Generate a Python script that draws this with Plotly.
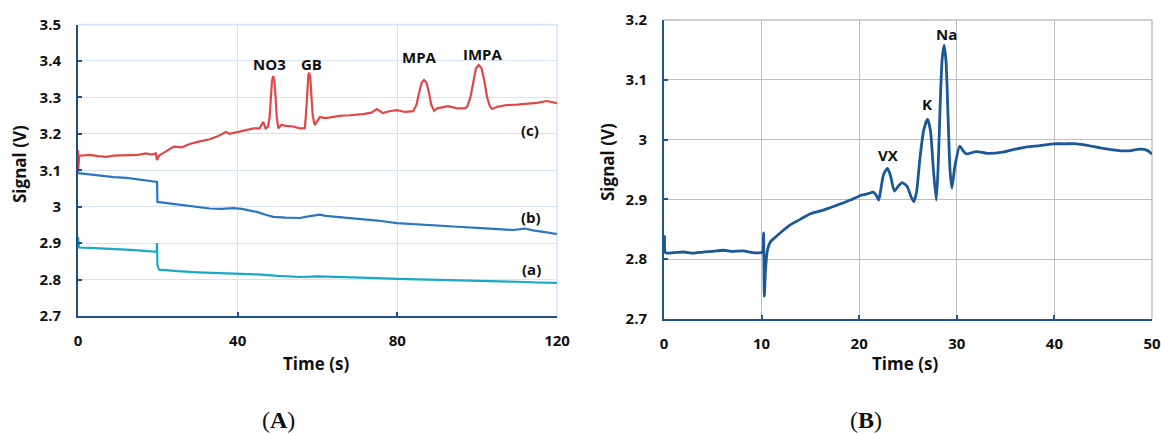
import plotly.graph_objects as go

# ---------------- Panel A data (Time s, Signal V) ----------------
t_c = [0, 0, 0.3, 3, 5, 7, 9, 12, 15, 17, 18.5, 19.5, 19.8, 20.3, 22, 24, 26, 28, 30,
       33, 35, 37, 38, 40, 42, 44, 45.5, 46.4, 47.0, 47.6, 48.0, 48.3, 48.6, 48.9, 49.2,
       49.5, 49.8, 50.2, 51, 52, 53.9, 55.6, 56.8, 57.1, 57.4, 57.7, 57.9, 58.2, 58.5,
       58.8, 59.3, 60.0, 60.6, 62, 63.9, 66, 68, 71.4, 73.5, 74.9, 76.4, 78, 79.9, 82,
       84.0, 84.8, 85.5, 86.1, 86.7, 87.3, 87.9, 88.5, 89.2, 90.0, 92.7, 95, 96.9, 97.5,
       98.3, 99.0, 99.7, 100.4, 101.1, 101.8, 102.5, 103.2, 103.8, 105, 107.4, 110, 113,
       115, 117.4, 119, 120]
v_c = [3.155, 3.092, 3.140, 3.142, 3.139, 3.137, 3.140, 3.140, 3.142, 3.146, 3.143, 3.146,
       3.128, 3.140, 3.152, 3.165, 3.163, 3.172, 3.178, 3.185, 3.193, 3.205, 3.200, 3.205,
       3.212, 3.215, 3.215, 3.233, 3.215, 3.220, 3.245, 3.300, 3.345, 3.359, 3.345, 3.300,
       3.245, 3.215, 3.225, 3.222, 3.220, 3.215, 3.215, 3.250, 3.310, 3.360, 3.368, 3.355,
       3.300, 3.250, 3.224, 3.235, 3.246, 3.243, 3.247, 3.250, 3.251, 3.254, 3.258, 3.268,
       3.257, 3.262, 3.265, 3.260, 3.262, 3.280, 3.315, 3.340, 3.348, 3.340, 3.315, 3.280,
       3.263, 3.270, 3.276, 3.270, 3.270, 3.274, 3.300, 3.345, 3.380, 3.389, 3.380, 3.345,
       3.300, 3.275, 3.268, 3.274, 3.279, 3.280, 3.283, 3.285, 3.290, 3.286, 3.284]

t_b = [0, 3, 6, 9, 12.2, 15, 18, 19.8, 19.9, 22, 25, 27.3, 30, 33, 36, 38.9, 41, 43, 45,
       47, 48.9, 52, 55.6, 57, 59, 60.6, 62, 65, 70, 75, 79.9, 85, 90, 95, 100, 105, 109,
       112, 114, 117, 120]
v_b = [3.092, 3.088, 3.085, 3.081, 3.079, 3.075, 3.071, 3.068, 3.013, 3.010, 3.005, 3.002,
       2.998, 2.995, 2.994, 2.996, 2.994, 2.990, 2.985, 2.978, 2.972, 2.970, 2.969, 2.972,
       2.975, 2.978, 2.975, 2.972, 2.968, 2.962, 2.955, 2.951, 2.948, 2.945, 2.942, 2.939,
       2.936, 2.940, 2.935, 2.930, 2.925]

t_a = [0, 0.3, 3, 6, 9, 12, 15, 18, 19.7, 19.8, 19.9, 20.3, 22, 25, 30, 35, 38.9, 45, 50,
       55.6, 60, 65, 70, 75, 80, 85, 90, 95, 100, 105, 110, 115, 120]
v_a = [2.917, 2.888, 2.887, 2.886, 2.884, 2.882, 2.880, 2.878, 2.876, 2.900, 2.840, 2.827,
       2.825, 2.823, 2.820, 2.818, 2.818, 2.814, 2.810, 2.807, 2.809, 2.808, 2.806, 2.804,
       2.802, 2.801, 2.800, 2.799, 2.798, 2.796, 2.794, 2.792, 2.791]

# ---------------- Panel B data ----------------
t_vx = [0, 0.05, 0.15, 1, 2, 3, 4, 5, 6.1, 7, 8.1, 9.1, 9.9, 10.1, 10.2, 10.28, 10.4, 10.6,
        10.9, 11.5, 12.2, 12.9, 14, 15, 16.3, 17, 18, 19.1, 20.2, 21, 21.4, 21.7, 22.0,
        22.2, 22.5, 22.9, 23.2, 23.6, 24.0, 24.4, 24.9, 25.3, 25.6, 25.9, 26.2, 26.6, 27.0,
        27.3, 27.6, 27.9, 28.1, 28.3, 28.5, 28.7, 28.9, 29.1, 29.3, 29.5, 29.8, 30.3, 30.7,
        31, 32, 33.1, 34.7, 36, 37.2, 38.5, 39.9, 41, 42.3, 43.5, 44.7, 46, 47.4, 48.8,
        49.5, 50]
v_vx = [2.811, 2.838, 2.811, 2.811, 2.812, 2.810, 2.812, 2.813, 2.815, 2.813, 2.814, 2.811,
        2.811, 2.812, 2.844, 2.738, 2.782, 2.815, 2.829, 2.838, 2.848, 2.857, 2.867, 2.876,
        2.882, 2.886, 2.892, 2.899, 2.907, 2.910, 2.912, 2.908, 2.899, 2.915, 2.942, 2.952,
        2.940, 2.914, 2.922, 2.928, 2.922, 2.905, 2.896, 2.915, 2.965, 3.015, 3.034, 3.015,
        2.950, 2.899, 2.960, 3.060, 3.135, 3.158, 3.130, 3.040, 2.950, 2.919, 2.955, 2.989,
        2.980, 2.976, 2.980, 2.977, 2.979, 2.984, 2.988, 2.990, 2.993, 2.993, 2.993, 2.990,
        2.986, 2.983, 2.981, 2.984, 2.982, 2.976]

# peak / curve labels
labA_text = ["NO3", "GB", "MPA", "IMPA", "(c)", "(b)", "(a)"]
labA_x = [48.0, 58.4, 85.5, 101.4, 113.2, 113.5, 113.7]
labA_y = [3.392, 3.392, 3.411, 3.419, 3.210, 2.973, 2.829]
labB_text = ["VX", "K", "Na"]
labB_x = [22.9, 26.9, 28.9]
labB_y = [2.974, 3.059, 3.176]

xA_ticks = [0, 40, 80, 120]
xB_ticks = [0, 10, 20, 30, 40, 50]

W, H = 1161, 435
FONT = "Open Sans"
AX_A = "#1f4e89"
AX_B = "#1f5590"
GRID_A = "#d7e3f3"
GRID_B = "#bfbfbf"

fig = go.Figure()
fig.add_trace(go.Scatter(x=t_c, y=v_c, mode="lines", line=dict(color="#e04848", width=2.2),
                         xaxis="x", yaxis="y", showlegend=False))
fig.add_trace(go.Scatter(x=t_b, y=v_b, mode="lines", line=dict(color="#2a77c0", width=2.2),
                         xaxis="x", yaxis="y", showlegend=False))
fig.add_trace(go.Scatter(x=t_a, y=v_a, mode="lines", line=dict(color="#1aa8c8", width=2.2),
                         xaxis="x", yaxis="y", showlegend=False))
fig.add_trace(go.Scatter(x=t_vx, y=v_vx, mode="lines",
                         line=dict(color="#1b5896", width=2.8, shape="spline", smoothing=0.6),
                         xaxis="x2", yaxis="y2", showlegend=False))

tickfont = dict(family=FONT, size=15, color="#111111", weight="bold")

def xax(domain, rng, ticks, grid, axc, anchor):
    return dict(domain=domain, range=rng, tickvals=ticks, showgrid=True, gridcolor=grid,
                gridwidth=1, zeroline=False, showline=True, linecolor=axc, linewidth=2,
                ticks="inside", ticklen=4, tickwidth=2, tickcolor=axc, tickfont=tickfont,
                ticklabelstandoff=10, anchor=anchor, fixedrange=True, automargin=False)

def yax(domain, rng, grid, axc, anchor):
    return dict(domain=domain, range=rng, dtick=0.1, tick0=2.7, showgrid=True, gridcolor=grid,
                gridwidth=1, zeroline=False, showline=True, linecolor=axc, linewidth=2,
                ticks="inside", ticklen=4, tickwidth=2, tickcolor=axc, tickfont=tickfont,
                ticklabelstandoff=12, anchor=anchor, fixedrange=True, automargin=False)

fig.update_layout(
    width=W, height=H, autosize=False,
    margin=dict(l=0, r=0, t=0, b=0, pad=0, autoexpand=False),
    paper_bgcolor="white", plot_bgcolor="white", showlegend=False,
    xaxis=xax([78 / W, 557 / W], [0, 120], xA_ticks, GRID_A, AX_A, "y"),
    yaxis=yax([1 - 316 / H, 1 - 24.5 / H], [2.7, 3.5], GRID_A, AX_A, "x"),
    xaxis2=xax([664 / W, 1152 / W], [0, 50], xB_ticks, GRID_B, AX_B, "y2"),
    yaxis2=yax([1 - 319 / H, 1 - 20 / H], [2.7, 3.2], GRID_B, AX_B, "x2"),
)

# border lines (top / right) in grid colour
for xr, yr, c in [("x domain", "y domain", GRID_A), ("x2 domain", "y2 domain", GRID_B)]:
    fig.add_shape(type="line", xref=xr, yref=yr, x0=0, x1=1, y0=1, y1=1,
                  line=dict(color=c, width=1.5), layer="below")
    fig.add_shape(type="line", xref=xr, yref=yr, x0=1, x1=1, y0=0, y1=1,
                  line=dict(color=c, width=1.5), layer="below")

labfont = dict(family=FONT, size=15, color="#111111", weight="bold")
for txt, x, y in zip(labA_text, labA_x, labA_y):
    fig.add_annotation(text=txt, x=x, y=y, xref="x", yref="y", showarrow=False,
                       font=labfont, xanchor="center", yanchor="middle")
for txt, x, y in zip(labB_text, labB_x, labB_y):
    fig.add_annotation(text=txt, x=x, y=y, xref="x2", yref="y2", showarrow=False,
                       font=labfont, xanchor="center", yanchor="middle")

titlefont = dict(family=FONT, size=17, color="#111111", weight="bold")
for txt, px, py, ang in [("Signal (V)", 20, 164, -90), ("Signal (V)", 607, 162, -90),
                         ("Time (s)", 316, 363, 0), ("Time (s)", 905, 363, 0)]:
    fig.add_annotation(text=txt, x=px / W, y=1 - py / H, xref="paper", yref="paper",
                       showarrow=False, textangle=ang, font=titlefont,
                       xanchor="center", yanchor="middle")

panelfont = dict(family="Liberation Serif", size=24, color="#111111")
for txt, px in [("(<b>A</b>)", 278), ("(<b>B</b>)", 866)]:
    fig.add_annotation(text=txt, x=px / W, y=1 - 420 / H, xref="paper", yref="paper",
                       showarrow=False, font=panelfont, xanchor="center", yanchor="middle")

fig.write_html("out.html")
